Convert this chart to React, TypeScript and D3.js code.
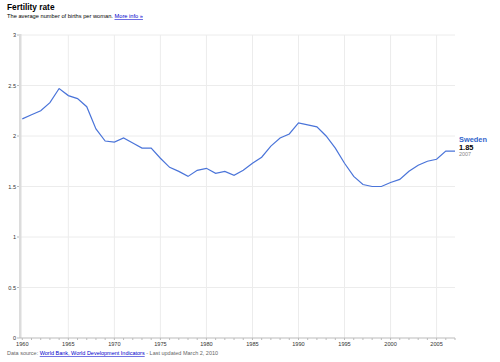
import React from 'react';
import * as d3 from 'd3';

const years = d3.range(1960, 2008);
const fertility = [
  2.17, 2.21, 2.25, 2.33, 2.47, 2.40, 2.37, 2.29, 2.07, 1.95,
  1.94, 1.98, 1.93, 1.88, 1.88, 1.78, 1.69, 1.65, 1.60, 1.66,
  1.68, 1.63, 1.65, 1.61, 1.66, 1.73, 1.79, 1.90, 1.98, 2.02,
  2.13, 2.11, 2.09, 2.00, 1.88, 1.73, 1.60, 1.52, 1.50, 1.50,
  1.54, 1.57, 1.65, 1.71, 1.75, 1.77, 1.85, 1.85,
];
const yTicks = [0, 0.5, 1, 1.5, 2, 2.5, 3];
const xTicks = [1960, 1965, 1970, 1975, 1980, 1985, 1990, 1995, 2000, 2005];

const W = 500;
const H = 362;
const font = 'Arial, "Liberation Sans", sans-serif';

export default function App() {
  const x = d3.scaleLinear().domain([1960, 2007]).range([22.3, 455]);
  const y = d3.scaleLinear().domain([0, 3]).range([338, 35]);
  const data = years.map((yr, i) => ({ yr, v: fertility[i] }));
  const line = d3.line<{ yr: number; v: number }>().x(d => x(d.yr)).y(d => y(d.v));
  const last = data[data.length - 1];

  return (
    <svg width={W} height={H} style={{ position: 'absolute', left: 0, top: 0, background: '#fff' }} fontFamily={font}>
      <text x={7} y={10} fontSize={8.3} fontWeight="bold" fill="#000">Fertility rate</text>
      <text x={7} y={18} fontSize={5.7} fill="#000">
        The average number of births per woman. <tspan fill="#0000cc" textDecoration="underline">More info »</tspan>
      </text>

      {/* grid */}
      {yTicks.filter(t => t > 0).map(t => (
        <line key={'h' + t} x1={21} x2={x(2007)} y1={y(t)} y2={y(t)} stroke="#ececec" />
      ))}
      {xTicks.filter(t => t > 1960).map(t => (
        <line key={'v' + t} x1={x(t)} x2={x(t)} y1={y(3)} y2={y(0)} stroke="#ececec" />
      ))}

      {/* axes */}
      <rect x={19} y={y(3) - 1} width={2.5} height={y(0) - y(3) + 1} fill="#dcdcdc" />
      <line x1={19} x2={x(2007)} y1={y(0)} y2={y(0)} stroke="#bbb" />
      {years.map(t => (
        <line key={'t' + t} x1={x(t)} x2={x(t)} y1={y(0)} y2={y(0) + 2} stroke="#bbb" />
      ))}
      {yTicks.map(t => (
        <g key={'yt' + t}>
          <line x1={17} x2={19} y1={y(t)} y2={y(t)} stroke="#bbb" />
          <text x={16} y={y(t) + 2} fontSize={5.6} textAnchor="end" fill="#333">{t}</text>
        </g>
      ))}
      {xTicks.map(t => (
        <text key={'xt' + t} x={x(t)} y={y(0) + 8} fontSize={5.6} textAnchor="middle" fill="#333">{t}</text>
      ))}

      <path d={line(data) ?? ''} fill="none" stroke="#4a74d9" strokeWidth={1.2} />

      <text x={459} y={142} fontSize={7.4} fontWeight="bold" fill="#3366cc">Sweden</text>
      <text x={459} y={150} fontSize={7.4} fontWeight="bold" fill="#000">{last.v.toFixed(2)}</text>
      <text x={459} y={155.5} fontSize={5.4} fill="#888">{last.yr}</text>

      <text x={7} y={355} fontSize={5.5} fill="#666">
        Data source: <tspan fill="#0000cc" textDecoration="underline">World Bank, World Development Indicators</tspan> - Last updated March 2, 2010
      </text>
    </svg>
  );
}
